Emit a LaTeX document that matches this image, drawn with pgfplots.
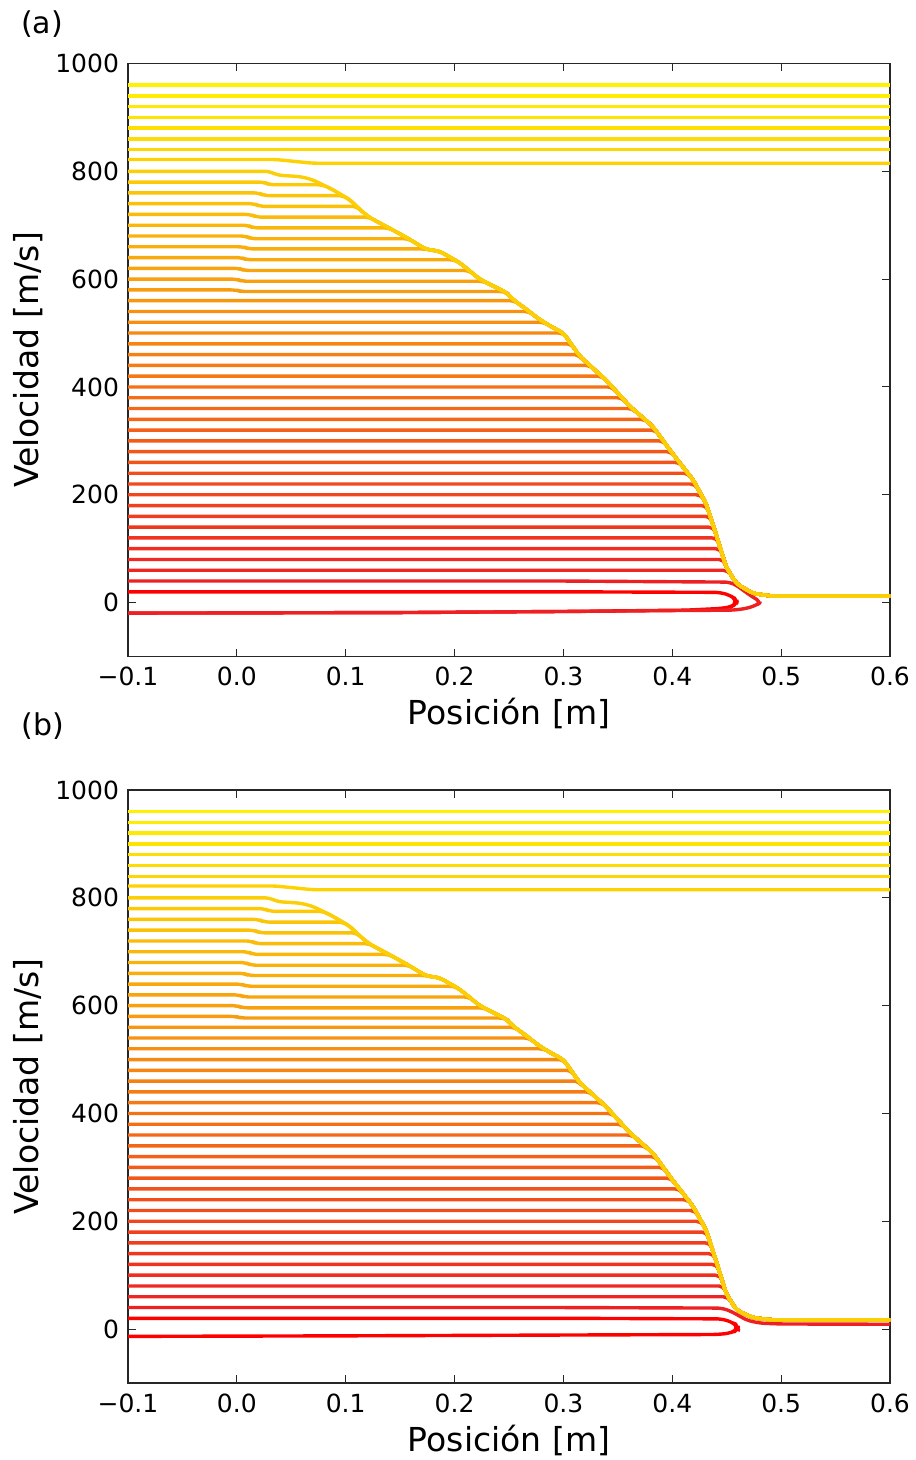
\documentclass[border=0pt]{standalone}
\usepackage{fontspec}
\setmainfont{DejaVu Sans}
\usepackage{pgfplots}
\pgfplotsset{compat=1.18}

\pgfplotsset{
  lc/.style={color=yellow!#1!red, line width=1.7pt, line join=round, line cap=butt, rounded corners=2.5pt},
  myax/.style={
    width=381pt, height=296.5pt, scale only axis,
    xmin=-0.1, xmax=0.6, ymin=-100, ymax=1000,
    xtick={-0.1,0,0.1,0.2,0.3,0.4,0.5,0.6},
    xticklabels={−0.1,0.0,0.1,0.2,0.3,0.4,0.5,0.6},
    ytick={0,200,400,600,800,1000},
    yticklabels={0,200,400,600,800,1000},
    tick align=inside, tick pos=both, major tick length=4pt,
    ticklabel style={font=\fontsize{12.5}{15}\selectfont},
    xticklabel style={anchor=base, yshift=-14.5pt},
    yticklabel style={anchor=east, xshift=-1pt},
    label style={font=\fontsize{16.5}{20}\selectfont},
    xlabel={Posición [m]},
    ylabel={Velocidad [m/s]},
    xlabel style={at={(axis description cs:0.5,-0.0961)}, anchor=center},
    ylabel style={at={(axis description cs:-0.1312,0.5)}, anchor=center},
    axis line style={line width=0.6pt, black!85},
    every tick/.style={black!85, line width=0.5pt},
  }
}

% shared trajectories: #1 = velocity at x=0.474, #2 = final velocity
\newcommand\shared[2]{%
\addplot[lc=4.3] coordinates {(-0.1,60)(0.4513,60)(0.459,35)(0.474,#1)(0.492,#2)(0.6,#2)};
\addplot[lc=6.4] coordinates {(-0.1,80)(0.4474,80)(0.4495,66)(0.459,35)(0.474,#1)(0.492,#2)(0.6,#2)};
\addplot[lc=8.5] coordinates {(-0.1,100)(0.4443,100)(0.4495,66)(0.459,35)(0.474,#1)(0.492,#2)(0.6,#2)};
\addplot[lc=10.6] coordinates {(-0.1,120)(0.4412,120)(0.4495,66)(0.459,35)(0.474,#1)(0.492,#2)(0.6,#2)};
\addplot[lc=12.8] coordinates {(-0.1,140)(0.4381,140)(0.440,128)(0.4495,66)(0.459,35)(0.474,#1)(0.492,#2)(0.6,#2)};
\addplot[lc=14.9] coordinates {(-0.1,160)(0.4349,160)(0.440,128)(0.4495,66)(0.459,35)(0.474,#1)(0.492,#2)(0.6,#2)};
\addplot[lc=17.0] coordinates {(-0.1,180)(0.4316,180)(0.440,128)(0.4495,66)(0.459,35)(0.474,#1)(0.492,#2)(0.6,#2)};
\addplot[lc=19.1] coordinates {(-0.1,200)(0.4266,200)(0.431,184)(0.440,128)(0.4495,66)(0.459,35)(0.474,#1)(0.492,#2)(0.6,#2)};
\addplot[lc=21.3] coordinates {(-0.1,220)(0.4212,220)(0.431,184)(0.440,128)(0.4495,66)(0.459,35)(0.474,#1)(0.492,#2)(0.6,#2)};
\addplot[lc=23.4] coordinates {(-0.1,240)(0.4143,240)(0.419,228)(0.431,184)(0.440,128)(0.4495,66)(0.459,35)(0.474,#1)(0.492,#2)(0.6,#2)};
\addplot[lc=25.5] coordinates {(-0.1,260)(0.4066,260)(0.419,228)(0.431,184)(0.440,128)(0.4495,66)(0.459,35)(0.474,#1)(0.492,#2)(0.6,#2)};
\addplot[lc=27.7] coordinates {(-0.1,280)(0.3989,280)(0.400,277)(0.419,228)(0.431,184)(0.440,128)(0.4495,66)(0.459,35)(0.474,#1)(0.492,#2)(0.6,#2)};
\addplot[lc=29.8] coordinates {(-0.1,300)(0.3917,300)(0.400,277)(0.419,228)(0.431,184)(0.440,128)(0.4495,66)(0.459,35)(0.474,#1)(0.492,#2)(0.6,#2)};
\addplot[lc=31.9] coordinates {(-0.1,320)(0.3845,320)(0.400,277)(0.419,228)(0.431,184)(0.440,128)(0.4495,66)(0.459,35)(0.474,#1)(0.492,#2)(0.6,#2)};
\addplot[lc=34.0] coordinates {(-0.1,340)(0.3746,340)(0.382,327)(0.400,277)(0.419,228)(0.431,184)(0.440,128)(0.4495,66)(0.459,35)(0.474,#1)(0.492,#2)(0.6,#2)};
\addplot[lc=36.2] coordinates {(-0.1,360)(0.3633,360)(0.382,327)(0.400,277)(0.419,228)(0.431,184)(0.440,128)(0.4495,66)(0.459,35)(0.474,#1)(0.492,#2)(0.6,#2)};
\addplot[lc=38.3] coordinates {(-0.1,380)(0.3538,380)(0.361,364)(0.382,327)(0.400,277)(0.419,228)(0.431,184)(0.440,128)(0.4495,66)(0.459,35)(0.474,#1)(0.492,#2)(0.6,#2)};
\addplot[lc=40.4] coordinates {(-0.1,400)(0.3448,400)(0.361,364)(0.382,327)(0.400,277)(0.419,228)(0.431,184)(0.440,128)(0.4495,66)(0.459,35)(0.474,#1)(0.492,#2)(0.6,#2)};
\addplot[lc=42.6] coordinates {(-0.1,420)(0.3352,420)(0.339,413)(0.361,364)(0.382,327)(0.400,277)(0.419,228)(0.431,184)(0.440,128)(0.4495,66)(0.459,35)(0.474,#1)(0.492,#2)(0.6,#2)};
\addplot[lc=44.7] coordinates {(-0.1,440)(0.3243,440)(0.339,413)(0.361,364)(0.382,327)(0.400,277)(0.419,228)(0.431,184)(0.440,128)(0.4495,66)(0.459,35)(0.474,#1)(0.492,#2)(0.6,#2)};
\addplot[lc=46.8] coordinates {(-0.1,460)(0.314,460)(0.315,457)(0.339,413)(0.361,364)(0.382,327)(0.400,277)(0.419,228)(0.431,184)(0.440,128)(0.4495,66)(0.459,35)(0.474,#1)(0.492,#2)(0.6,#2)};
\addplot[lc=48.9] coordinates {(-0.1,480)(0.307,480)(0.315,457)(0.339,413)(0.361,364)(0.382,327)(0.400,277)(0.419,228)(0.431,184)(0.440,128)(0.4495,66)(0.459,35)(0.474,#1)(0.492,#2)(0.6,#2)};
\addplot[lc=51.1] coordinates {(-0.1,500)(0.300,500)(0.315,457)(0.339,413)(0.361,364)(0.382,327)(0.400,277)(0.419,228)(0.431,184)(0.440,128)(0.4495,66)(0.459,35)(0.474,#1)(0.492,#2)(0.6,#2)};
\addplot[lc=53.2] coordinates {(-0.1,520)(0.2821,520)(0.2904,510)(0.300,500)(0.315,457)(0.339,413)(0.361,364)(0.382,327)(0.400,277)(0.419,228)(0.431,184)(0.440,128)(0.4495,66)(0.459,35)(0.474,#1)(0.492,#2)(0.6,#2)};
\addplot[lc=55.3] coordinates {(-0.1,540)(0.2685,540)(0.278,525)(0.2904,510)(0.300,500)(0.315,457)(0.339,413)(0.361,364)(0.382,327)(0.400,277)(0.419,228)(0.431,184)(0.440,128)(0.4495,66)(0.459,35)(0.474,#1)(0.492,#2)(0.6,#2)};
\addplot[lc=57.4] coordinates {(-0.1,560)(0.255,560)(0.266,544)(0.278,525)(0.2904,510)(0.300,500)(0.315,457)(0.339,413)(0.361,364)(0.382,327)(0.400,277)(0.419,228)(0.431,184)(0.440,128)(0.4495,66)(0.459,35)(0.474,#1)(0.492,#2)(0.6,#2)};
\addplot[lc=59.6] coordinates {(-0.1,580)(-0.001,580)(0.004,577)(0.2456,577)(0.2476,575)(0.2537,562)(0.266,544)(0.278,525)(0.2904,510)(0.300,500)(0.315,457)(0.339,413)(0.361,364)(0.382,327)(0.400,277)(0.419,228)(0.431,184)(0.440,128)(0.4495,66)(0.459,35)(0.474,#1)(0.492,#2)(0.6,#2)};
\addplot[lc=61.7] coordinates {(-0.1,600)(0.000,600)(0.005,596)(0.2269,596)(0.2476,575)(0.2537,562)(0.266,544)(0.278,525)(0.2904,510)(0.300,500)(0.315,457)(0.339,413)(0.361,364)(0.382,327)(0.400,277)(0.419,228)(0.431,184)(0.440,128)(0.4495,66)(0.459,35)(0.474,#1)(0.492,#2)(0.6,#2)};
\addplot[lc=63.8] coordinates {(-0.1,620)(0.002,620)(0.007,616)(0.2134,616)(0.223,600)(0.2476,575)(0.2537,562)(0.266,544)(0.278,525)(0.2904,510)(0.300,500)(0.315,457)(0.339,413)(0.361,364)(0.382,327)(0.400,277)(0.419,228)(0.431,184)(0.440,128)(0.4495,66)(0.459,35)(0.474,#1)(0.492,#2)(0.6,#2)};
\addplot[lc=66.0] coordinates {(-0.1,640)(0.004,640)(0.009,636)(0.1998,636)(0.205,630)(0.223,600)(0.2476,575)(0.2537,562)(0.266,544)(0.278,525)(0.2904,510)(0.300,500)(0.315,457)(0.339,413)(0.361,364)(0.382,327)(0.400,277)(0.419,228)(0.431,184)(0.440,128)(0.4495,66)(0.459,35)(0.474,#1)(0.492,#2)(0.6,#2)};
\addplot[lc=68.1] coordinates {(-0.1,660)(0.006,660)(0.011,656)(0.172,656)(0.186,652)(0.205,630)(0.223,600)(0.2476,575)(0.2537,562)(0.266,544)(0.278,525)(0.2904,510)(0.300,500)(0.315,457)(0.339,413)(0.361,364)(0.382,327)(0.400,277)(0.419,228)(0.431,184)(0.440,128)(0.4495,66)(0.459,35)(0.474,#1)(0.492,#2)(0.6,#2)};
\addplot[lc=70.2] coordinates {(-0.1,680)(0.008,680)(0.013,675)(0.1576,675)(0.174,655)(0.186,652)(0.205,630)(0.223,600)(0.2476,575)(0.2537,562)(0.266,544)(0.278,525)(0.2904,510)(0.300,500)(0.315,457)(0.339,413)(0.361,364)(0.382,327)(0.400,277)(0.419,228)(0.431,184)(0.440,128)(0.4495,66)(0.459,35)(0.474,#1)(0.492,#2)(0.6,#2)};
\addplot[lc=72.3] coordinates {(-0.1,700)(0.010,700)(0.015,695)(0.1397,695)(0.156,677)(0.174,655)(0.186,652)(0.205,630)(0.223,600)(0.2476,575)(0.2537,562)(0.266,544)(0.278,525)(0.2904,510)(0.300,500)(0.315,457)(0.339,413)(0.361,364)(0.382,327)(0.400,277)(0.419,228)(0.431,184)(0.440,128)(0.4495,66)(0.459,35)(0.474,#1)(0.492,#2)(0.6,#2)};
\addplot[lc=74.5] coordinates {(-0.1,720)(0.013,720)(0.018,715)(0.1214,715)(0.137,698)(0.156,677)(0.174,655)(0.186,652)(0.205,630)(0.223,600)(0.2476,575)(0.2537,562)(0.266,544)(0.278,525)(0.2904,510)(0.300,500)(0.315,457)(0.339,413)(0.361,364)(0.382,327)(0.400,277)(0.419,228)(0.431,184)(0.440,128)(0.4495,66)(0.459,35)(0.474,#1)(0.492,#2)(0.6,#2)};
\addplot[lc=76.6] coordinates {(-0.1,740)(0.016,740)(0.021,735)(0.110,735)(0.113,729)(0.122,714)(0.137,698)(0.156,677)(0.174,655)(0.186,652)(0.205,630)(0.223,600)(0.2476,575)(0.2537,562)(0.266,544)(0.278,525)(0.2904,510)(0.300,500)(0.315,457)(0.339,413)(0.361,364)(0.382,327)(0.400,277)(0.419,228)(0.431,184)(0.440,128)(0.4495,66)(0.459,35)(0.474,#1)(0.492,#2)(0.6,#2)};
\addplot[lc=78.7] coordinates {(-0.1,760)(0.020,760)(0.025,755)(0.0973,755)(0.104,747)(0.113,729)(0.122,714)(0.137,698)(0.156,677)(0.174,655)(0.186,652)(0.205,630)(0.223,600)(0.2476,575)(0.2537,562)(0.266,544)(0.278,525)(0.2904,510)(0.300,500)(0.315,457)(0.339,413)(0.361,364)(0.382,327)(0.400,277)(0.419,228)(0.431,184)(0.440,128)(0.4495,66)(0.459,35)(0.474,#1)(0.492,#2)(0.6,#2)};
\addplot[lc=80.9] coordinates {(-0.1,780)(0.025,780)(0.030,775)(0.079,775)(0.088,766)(0.104,747)(0.113,729)(0.122,714)(0.137,698)(0.156,677)(0.174,655)(0.186,652)(0.205,630)(0.223,600)(0.2476,575)(0.2537,562)(0.266,544)(0.278,525)(0.2904,510)(0.300,500)(0.315,457)(0.339,413)(0.361,364)(0.382,327)(0.400,277)(0.419,228)(0.431,184)(0.440,128)(0.4495,66)(0.459,35)(0.474,#1)(0.492,#2)(0.6,#2)};
\addplot[lc=83.0] coordinates {(-0.1,800)(0.030,800)(0.037,793)(0.059,790)(0.070,784)(0.088,766)(0.104,747)(0.113,729)(0.122,714)(0.137,698)(0.156,677)(0.174,655)(0.186,652)(0.205,630)(0.223,600)(0.2476,575)(0.2537,562)(0.266,544)(0.278,525)(0.2904,510)(0.300,500)(0.315,457)(0.339,413)(0.361,364)(0.382,327)(0.400,277)(0.419,228)(0.431,184)(0.440,128)(0.4495,66)(0.459,35)(0.474,#1)(0.492,#2)(0.6,#2)};
\addplot[lc=85.1] coordinates {(-0.1,822)(0.035,822)(0.050,819)(0.070,815)(0.6,815)};
\addplot[lc=87.2] coordinates {(-0.1,840)(0.6,840)};
\addplot[lc=89.4] coordinates {(-0.1,860)(0.6,860)};
\addplot[lc=91.5] coordinates {(-0.1,880)(0.6,880)};
\addplot[lc=93.6] coordinates {(-0.1,900)(0.6,900)};
\addplot[lc=95.7] coordinates {(-0.1,920)(0.6,920)};
\addplot[lc=97.9] coordinates {(-0.1,940)(0.6,940)};
\addplot[lc=100] coordinates {(-0.1,960)(0.6,960)};
}

\begin{document}
\begin{tikzpicture}
\useasboundingbox (0,0) rectangle (457.5pt,-730pt);

\begin{axis}[myax, at={(64pt,-31.75pt)}, anchor=north west]
\addplot[lc=0] coordinates {(-0.1,20)(0.30,20)(0.443,19)(0.4527,14)(0.4575,7)(0.459,1)(0.457,-4)(0.454,-8)(0.4435,-11)(0.413,-14)(0.3,-16.5)(0.15,-18.5)(-0.1,-19.5)};
\addplot[lc=2.1] coordinates {(-0.1,40)(0.30,40)(0.4527,38)(0.459,32)(0.465,23)(0.474,10)(0.4818,1)(0.477,-5)(0.468,-11)(0.4558,-14)(0.40,-14.8)(0.3,-16.5)(0.15,-18.5)(-0.1,-19.5)};
\shared{17}{12}
\end{axis}
\node[font=\fontsize{15}{18}\selectfont] at (21pt,-12pt) {(a)};

\begin{axis}[myax, at={(64pt,-395pt)}, anchor=north west]
\addplot[lc=0] coordinates {(-0.1,20)(0.30,20)(0.445,19)(0.455,13)(0.459,6)(0.46,2)(0.458,-3)(0.452,-8)(0.44,-10)(0.3,-11)(0.1,-12.5)(-0.1,-13.5)};
\addplot[lc=2.1] coordinates {(-0.1,40)(0.30,40)(0.445,39)(0.453,34)(0.461,25)(0.469,16)(0.481,11)(0.50,9.5)(0.6,9)};
\shared{21}{17}
\end{axis}
\node[font=\fontsize{15}{18}\selectfont] at (21.5pt,-363pt) {(b)};
\end{tikzpicture}
\end{document}
